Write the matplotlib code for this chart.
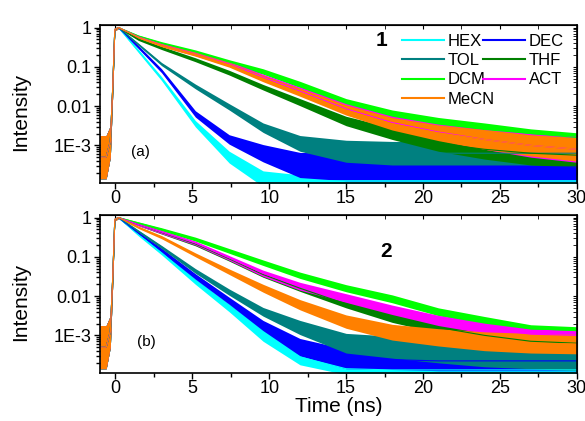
import numpy as np
import matplotlib.pyplot as plt
from matplotlib.lines import Line2D
from matplotlib.ticker import MultipleLocator, FixedLocator, FixedFormatter, LogLocator, NullFormatter

plt.rcParams['font.family'] = ['Liberation Sans', 'DejaVu Sans']

# common rising edge before t = 0 (log10 intensity, half width in decades)
t_pre = [-1.0, -0.6, -0.33, -0.17, -0.04]
mid_pre = [-3.3, -3.3, -2.9, -1.5, -0.05]
w_pre = [0.55, 0.55, 0.4, 0.15, 0.04]

# decay part, time in ns
t_dec = [0.2, 1.5, 3, 5.2, 7.4, 9.6, 12, 15, 18, 21, 24, 27, 30]

names = ['HEX', 'DEC', 'TOL', 'THF', 'DCM', 'ACT', 'MeCN']
colors = ['#00FFFF', '#0000FF', '#008080', '#008000', '#00FF00', '#FF00FF', '#FF8000']

# panel (a), compound 1: log10 intensity and noise half width
mid_a = {
    'HEX': [0, -0.6, -1.3, -2.45, -3.3, -3.85, -3.9, -3.9, -3.9, -3.9, -3.9, -3.9, -3.9],
    'DEC': [0, -0.5, -1.1, -2.2, -2.85, -3.2, -3.5, -3.55, -3.55, -3.55, -3.55, -3.55, -3.55],
    'TOL': [0, -0.43, -0.93, -1.5, -2.02, -2.55, -2.95, -3.15, -3.2, -3.2, -3.2, -3.2, -3.2],
    'THF': [0, -0.3, -0.52, -0.82, -1.15, -1.52, -1.9, -2.38, -2.7, -2.95, -3.1, -3.2, -3.25],
    'DCM': [0, -0.22, -0.4, -0.62, -0.88, -1.12, -1.45, -1.9, -2.2, -2.4, -2.55, -2.7, -2.8],
    'ACT': [0, -0.24, -0.44, -0.67, -0.93, -1.27, -1.62, -2.07, -2.42, -2.66, -2.85, -3.0, -3.1],
    'MeCN': [0, -0.25, -0.45, -0.68, -0.95, -1.3, -1.65, -2.1, -2.45, -2.68, -2.85, -3.0, -3.1],
}
w_a = {
    'HEX': [0.02, 0.04, 0.05, 0.08, 0.15, 0.2, 0.15, 0.15, 0.15, 0.15, 0.15, 0.15, 0.15],
    'DEC': [0.02, 0.04, 0.05, 0.08, 0.12, 0.22, 0.32, 0.35, 0.35, 0.35, 0.35, 0.35, 0.35],
    'TOL': [0.02, 0.03, 0.04, 0.06, 0.08, 0.12, 0.2, 0.28, 0.3, 0.3, 0.3, 0.3, 0.3],
    'THF': [0.02, 0.03, 0.04, 0.05, 0.06, 0.07, 0.09, 0.12, 0.15, 0.2, 0.25, 0.3, 0.3],
    'DCM': [0.02, 0.03, 0.04, 0.05, 0.06, 0.07, 0.08, 0.09, 0.1, 0.11, 0.12, 0.12, 0.12],
    'ACT': [0.02, 0.03, 0.04, 0.05, 0.06, 0.08, 0.1, 0.13, 0.16, 0.2, 0.25, 0.3, 0.33],
    'MeCN': [0.02, 0.03, 0.04, 0.05, 0.06, 0.08, 0.1, 0.13, 0.16, 0.2, 0.25, 0.27, 0.3],
}

# panel (b), compound 2
mid_b = {
    'HEX': [0, -0.43, -0.9, -1.63, -2.3, -3.0, -3.55, -3.85, -3.88, -3.88, -3.88, -3.88, -3.88],
    'DEC': [0, -0.4, -0.83, -1.5, -2.12, -2.75, -3.3, -3.6, -3.62, -3.65, -3.65, -3.65, -3.65],
    'TOL': [0, -0.35, -0.75, -1.36, -1.9, -2.4, -2.8, -3.2, -3.3, -3.4, -3.5, -3.55, -3.6],
    'THF': [0, -0.18, -0.38, -0.67, -1.05, -1.45, -1.8, -2.2, -2.55, -2.8, -3.0, -3.15, -3.2],
    'DCM': [0, -0.14, -0.3, -0.55, -0.85, -1.15, -1.47, -1.8, -2.07, -2.4, -2.62, -2.83, -2.88],
    'ACT': [0, -0.18, -0.37, -0.65, -1.03, -1.42, -1.75, -2.05, -2.35, -2.62, -2.82, -2.97, -3.0],
    'MeCN': [0, -0.25, -0.5, -0.95, -1.38, -1.8, -2.22, -2.65, -2.92, -3.05, -3.15, -3.2, -3.22],
}
w_b = {
    'HEX': [0.02, 0.04, 0.05, 0.07, 0.1, 0.15, 0.2, 0.15, 0.12, 0.12, 0.12, 0.12, 0.12],
    'DEC': [0.02, 0.03, 0.05, 0.07, 0.09, 0.13, 0.22, 0.25, 0.25, 0.25, 0.25, 0.25, 0.25],
    'TOL': [0.02, 0.03, 0.04, 0.06, 0.08, 0.11, 0.18, 0.25, 0.28, 0.3, 0.3, 0.3, 0.3],
    'THF': [0.02, 0.03, 0.04, 0.05, 0.06, 0.07, 0.08, 0.1, 0.12, 0.14, 0.16, 0.18, 0.2],
    'DCM': [0.02, 0.03, 0.04, 0.05, 0.06, 0.07, 0.08, 0.09, 0.1, 0.1, 0.1, 0.1, 0.1],
    'ACT': [0.02, 0.03, 0.04, 0.05, 0.06, 0.08, 0.1, 0.11, 0.12, 0.13, 0.13, 0.13, 0.13],
    'MeCN': [0.02, 0.03, 0.04, 0.05, 0.07, 0.1, 0.13, 0.17, 0.2, 0.22, 0.24, 0.25, 0.25],
}

ytick_vals = [1e-3, 1e-2, 1e-1, 1]
ytick_labels = ['1E-3', '0.01', '0.1', '1']


def draw_panel(ax, mids, widths):
    t = np.array(t_pre + t_dec)
    for name, c in zip(names, colors):
        m = np.array(mid_pre + mids[name])
        w = np.array(w_pre + widths[name])
        ax.fill_between(t, 10 ** (m - w), 10 ** (m + w), color=c, lw=0)
        ax.plot(t, 10 ** m, color=c, lw=0.8)
    ax.set_yscale('log')
    ax.set_xlim(-1, 30)
    ax.set_ylim(1.1e-4, 1.16)
    ax.yaxis.set_major_locator(FixedLocator(ytick_vals))
    ax.yaxis.set_major_formatter(FixedFormatter(ytick_labels))
    ax.yaxis.set_minor_locator(LogLocator(base=10, subs=np.arange(2, 10)))
    ax.yaxis.set_minor_formatter(NullFormatter())
    ax.xaxis.set_major_locator(MultipleLocator(5))
    ax.xaxis.set_minor_locator(MultipleLocator(2.5))
    ax.tick_params(axis='both', which='both', direction='out', labelsize=13, width=1)
    ax.tick_params(axis='both', which='major', length=4)
    ax.tick_params(axis='both', which='minor', length=3)
    ax.tick_params(axis='x', pad=1)
    ax.tick_params(axis='y', pad=2)
    for s in ax.spines.values():
        s.set_linewidth(1.2)
    # mirrored ticks on top and right, pointing inward
    top = ax.secondary_xaxis('top')
    top.xaxis.set_major_locator(MultipleLocator(5))
    top.xaxis.set_minor_locator(MultipleLocator(2.5))
    top.tick_params(which='both', direction='in', length=3, labeltop=False)
    right = ax.secondary_yaxis('right')
    right.yaxis.set_major_locator(FixedLocator(ytick_vals))
    right.yaxis.set_minor_locator(LogLocator(base=10, subs=np.arange(2, 10)))
    right.tick_params(which='both', direction='in', length=3, labelright=False)
    ax.set_ylabel('Intensity', fontsize=15)
    ax.yaxis.set_label_coords(-0.147, 0.45)


fig = plt.figure(figsize=(5.85, 4.21), dpi=100)
ax1 = fig.add_axes([0.171, 0.5653, 0.815, 0.3753])
ax2 = fig.add_axes([0.171, 0.114, 0.815, 0.3753])

draw_panel(ax1, mid_a, w_a)
draw_panel(ax2, mid_b, w_b)

ax1.text(0.59, 0.905, '1', transform=ax1.transAxes, fontsize=15, fontweight='bold', ha='center', va='center')
ax2.text(0.60, 0.766, '2', transform=ax2.transAxes, fontsize=15, fontweight='bold', ha='center', va='center')
ax1.text(0.084, 0.196, '(a)', transform=ax1.transAxes, fontsize=11, ha='center', va='center')
ax2.text(0.098, 0.198, '(b)', transform=ax2.transAxes, fontsize=11, ha='center', va='center')

ax2.set_xlabel('Time (ns)', fontsize=15, labelpad=0)

handles = {n: Line2D([], [], color=c, lw=1.5) for n, c in zip(names, colors)}
col1 = ['HEX', 'TOL', 'DCM', 'MeCN']
col2 = ['DEC', 'THF', 'ACT']
leg1 = ax1.legend([handles[n] for n in col1], col1, loc='upper left', bbox_to_anchor=(0.633, 0.943),
                  frameon=False, fontsize=12, handlelength=2.5, handletextpad=0.25,
                  labelspacing=0.25, borderpad=0, borderaxespad=0)
ax1.add_artist(leg1)
ax1.legend([handles[n] for n in col2], col2, loc='upper left', bbox_to_anchor=(0.803, 0.943),
           frameon=False, fontsize=12, handlelength=2.5, handletextpad=0.25,
           labelspacing=0.25, borderpad=0, borderaxespad=0)

fig.savefig('out.png', dpi=100)
